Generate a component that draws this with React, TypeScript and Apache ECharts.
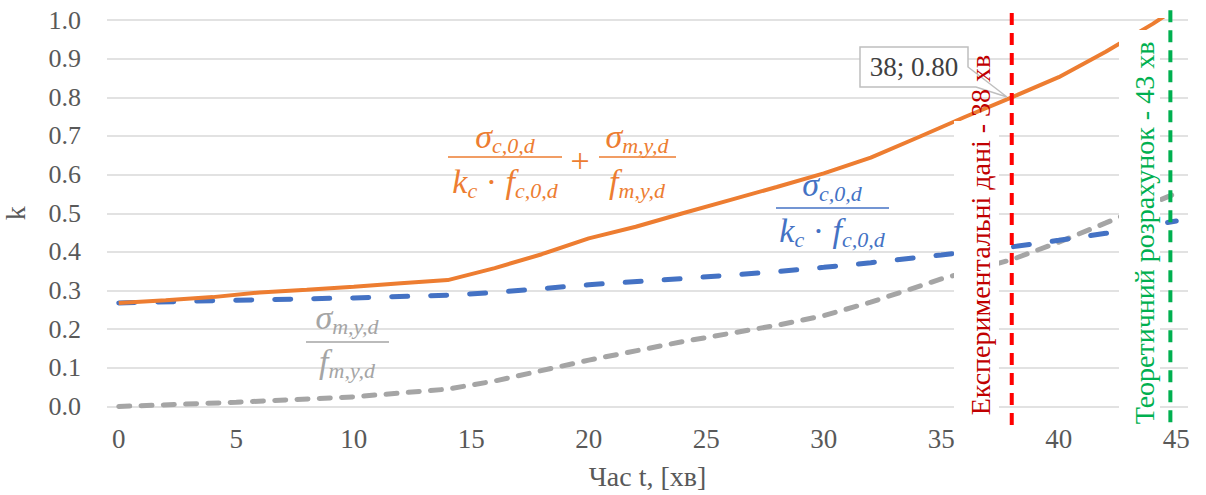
import { useEffect, useRef } from 'react';
import * as echarts from 'echarts';

const xTickValues = [0, 5, 10, 15, 20, 25, 30, 35, 40, 45];

const sumMinutes = [0, 2, 4, 6, 8, 10, 12, 14, 16, 18, 20, 22, 24, 26, 28, 30, 32, 34, 36, 38, 40, 42, 44, 45];
const sumValues = [0.268, 0.275, 0.283, 0.295, 0.302, 0.31, 0.319, 0.327, 0.358, 0.394, 0.435, 0.465, 0.5, 0.534, 0.568, 0.603, 0.644, 0.696, 0.749, 0.8, 0.852, 0.918, 0.99, 1.03];

const concMinutes = [0, 5, 10, 14, 16, 20, 24, 28, 30, 32, 35, 38, 40, 42, 45];
const concValues = [0.268, 0.275, 0.281, 0.288, 0.295, 0.315, 0.331, 0.349, 0.36, 0.372, 0.392, 0.413, 0.43, 0.448, 0.48];

const steelMinutes = [0, 5, 10, 14, 16, 20, 24, 28, 30, 32, 35, 38, 40, 42, 45];
const steelValues = [0, 0.011, 0.025, 0.045, 0.066, 0.12, 0.168, 0.21, 0.235, 0.27, 0.33, 0.38, 0.425, 0.475, 0.552];

const expMinute = 38;
const theoMinute = 44.75;
const markerTop = [1.018, 1.025];
const markerBottom = -0.055;

const expLabel = 'Експериментальні дані - 38 хв';
const theoLabel = 'Теоретичний розрахунок - 43 хв';
const calloutText = '38; 0.80';
const xName = 'Час t, [хв]';
const yName = 'k';

const F = 'Liberation Serif';
const ORANGE = '#ED7D31';
const BLUE = '#4472C4';
const GRAY = '#A5A5A5';

const pairs = (xs: number[], ys: number[]) => xs.map((x, i) => [x, ys[i]]);

function mathRich(color: string) {
  return {
    m: { fontSize: 34, fontStyle: 'italic', fontFamily: F, fill: color, padding: [0, 0, 3, 0], verticalAlign: 'bottom' },
    s: { fontSize: 22, fontStyle: 'italic', fontFamily: F, fill: color, verticalAlign: 'bottom' },
    n: { fontSize: 34, fontFamily: F, fill: color, padding: [0, 0, 3, 0], verticalAlign: 'bottom' },
  };
}

function mathText(text: string, x: number, y: number, color: string) {
  return {
    type: 'text',
    x,
    y,
    z: 100,
    style: {
      text,
      rich: mathRich(color),
      fill: color,
      fontFamily: F,
      fontSize: 34,
      fontStyle: 'italic',
      textAlign: 'center',
      textVerticalAlign: 'middle',
      align: 'center',
      verticalAlign: 'middle',
    },
  };
}

function plainText(text: string, x: number, y: number, color: string, size: number, rotation = 0, z = 100) {
  return {
    type: 'text',
    x,
    y,
    rotation,
    z,
    style: {
      text,
      fill: color,
      fontFamily: F,
      fontSize: size,
      textAlign: 'center',
      textVerticalAlign: 'middle',
      align: 'center',
      verticalAlign: 'middle',
    },
  };
}

function fracLine(x1: number, x2: number, y: number, color: string) {
  return {
    type: 'line',
    z: 100,
    shape: { x1, y1: y, x2, y2: y },
    style: { stroke: color, lineWidth: 1.5 },
  };
}

const SIG_C = '{m|σ}{s|c,0,d}';
const SIG_M = '{m|σ}{s|m,y,d}';
const DEN_C = '{m|k}{s|c}{n| · }{m|f}{s|c,0,d}';
const DEN_M = '{m|f}{s|m,y,d}';

export default function App() {
  const ref = useRef<HTMLDivElement>(null);
  useEffect(() => {
    if (!ref.current) return;
    const chart = echarts.init(ref.current, null, { renderer: 'svg' });
    const graphic: any[] = [
      // orange formula
      mathText(SIG_C, 505, 138, ORANGE),
      fracLine(448, 562, 157, ORANGE),
      mathText(DEN_C, 505, 183, ORANGE),
      plainText('+', 580, 160, ORANGE, 34),
      mathText(SIG_M, 637, 138, ORANGE),
      fracLine(599, 676, 157, ORANGE),
      mathText(DEN_M, 637, 183, ORANGE),
      // blue formula
      mathText(SIG_C, 832, 186, BLUE),
      fracLine(776, 889, 208, BLUE),
      mathText(DEN_C, 832, 232, BLUE),
      // gray formula
      mathText(SIG_M, 347, 319, GRAY),
      fracLine(306, 389, 342, GRAY),
      mathText(DEN_M, 347, 363, GRAY),
      // white label boxes
      { type: 'rect', z: 90, shape: { x: 954, y: 121, width: 45, height: 300 }, style: { fill: '#ffffff' } },
      { type: 'rect', z: 90, shape: { x: 1119, y: 30, width: 41, height: 391 }, style: { fill: '#ffffff' } },
      // callout
      {
        type: 'polygon', z: 105,
        shape: { points: [[860, 47], [968, 47], [968, 67], [1007, 97], [976, 87], [860, 87]] },
        style: { fill: '#ffffff', stroke: '#BFBFBF', lineWidth: 1.5 },
      },
      plainText(calloutText, 914, 67, '#404040', 27, 0, 111),
      plainText(expLabel, 980, 235, '#C00000', 28, Math.PI / 2, 112),
      plainText(theoLabel, 1144, 233, '#00B050', 28, Math.PI / 2, 112),
    ];

    chart.setOption({
      animation: false,
      backgroundColor: '#ffffff',
      grid: { left: 107, right: 18, top: 20, bottom: 88.5, containLabel: false, outerBoundsMode: 'none' },
      xAxis: {
        type: 'value',
        min: -0.5,
        max: 45.5,
        name: xName,
        nameLocation: 'middle',
        nameGap: 56,
        nameTextStyle: { color: '#595959', fontSize: 28, fontFamily: F },
        axisLine: { show: false },
        axisTick: { show: false },
        splitLine: { show: false },
        axisLabel: {
          customValues: xTickValues,
          color: '#595959',
          fontSize: 27,
          fontFamily: F,
          margin: 19,
        },
      },
      yAxis: {
        type: 'value',
        min: 0,
        max: 1,
        interval: 0.1,
        name: yName,
        nameLocation: 'middle',
        nameGap: 78,
        nameRotate: 90,
        nameTextStyle: { color: '#595959', fontSize: 28, fontFamily: F },
        axisLine: { show: false },
        axisTick: { show: false },
        splitLine: { lineStyle: { color: '#D9D9D9', width: 1.5 } },
        axisLabel: {
          color: '#595959',
          fontSize: 26,
          fontFamily: F,
          margin: 26,
          formatter: (v: number) => v.toFixed(1),
        },
      },
      series: [
        {
          type: 'line',
          data: pairs(steelMinutes, steelValues),
          symbol: 'none',
          lineStyle: { color: GRAY, width: 5, type: [11, 11.3], cap: 'round' },
          z: 3,
        },
        {
          type: 'line',
          data: pairs(concMinutes, concValues),
          symbol: 'none',
          lineStyle: { color: BLUE, width: 5, type: [16, 23], cap: 'round' },
          z: 4,
        },
        {
          type: 'line',
          data: pairs(sumMinutes, sumValues),
          symbol: 'none',
          lineStyle: { color: ORANGE, width: 4 },
          z: 5,
        },
        {
          type: 'line',
          data: [[expMinute, markerTop[0]], [expMinute, markerBottom]],
          symbol: 'none',
          clip: false,
          lineStyle: { color: '#FF0000', width: 4, type: [12, 8] },
          z: 6,
        },
        {
          type: 'line',
          data: [[theoMinute, markerTop[1]], [theoMinute, markerBottom]],
          symbol: 'none',
          clip: false,
          lineStyle: { color: '#00B050', width: 4, type: [12, 8] },
          z: 6,
        },
      ],
      graphic,
    });
    return () => chart.dispose();
  }, []);
  return <div ref={ref} style={{ position: 'fixed', left: 0, top: 0, width: 1206, height: 495 }} />;
}
